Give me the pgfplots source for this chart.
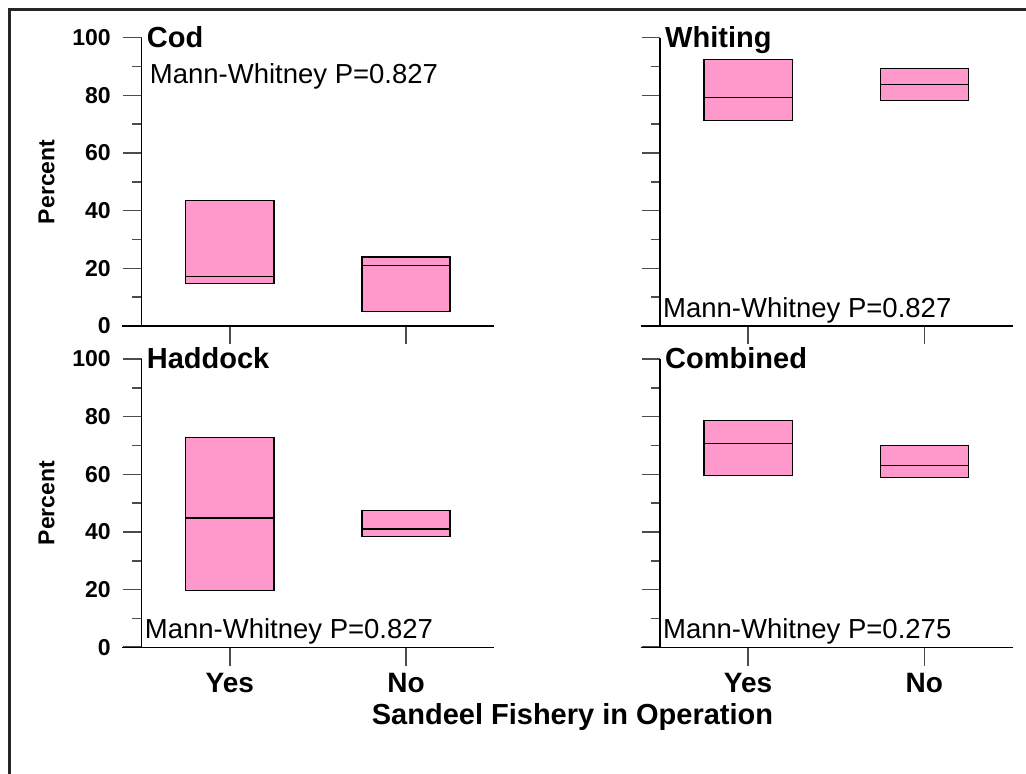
\documentclass[border=0pt]{standalone}
\usepackage{fontspec}
\setmainfont{Liberation Sans}
\usepackage{pgfplots}
\pgfplotsset{compat=1.18}
\usepgfplotslibrary{statistics}

\definecolor{boxpink}{RGB}{255,153,204}

\pgfplotsset{
  panel/.style={
    scale only axis, width=352.5pt, height=288.3pt,
    xmin=0.5, xmax=2.5, ymin=0, ymax=100,
    axis x line*=bottom, axis y line*=left,
    axis line style={black, line width=1.3pt},
    tick align=outside,
    xtick={1,2}, ytick={0,20,40,60,80,100}, minor ytick={10,30,50,70,90},
    major tick length=18.5pt, minor tick length=9.5pt,
    tick style={black!70, line width=1.6pt},
    /pgf/number format/assume math mode=true,
    yticklabel style={font=\fontsize{23}{23}\selectfont\bfseries, xshift=-9pt},
    xticklabel style={font=\fontsize{28}{28}\selectfont\bfseries, yshift=-4pt},
    every axis y label/.style={at={([xshift=-95pt]axis description cs:0,0.5)},
      rotate=90, anchor=center, font=\fontsize{23}{23}\selectfont\bfseries},
    clip=false,
    boxplot/draw direction=y,
    boxplot/box extend=0.5,
    boxplot/whisker extend=0.125,
  },
  pinkbox/.style={draw=black, fill=boxpink, line width=1.3pt},
}

% panel title in the upper left corner
\newcommand\paneltitle[1]{%
  \node[anchor=base west, inner sep=0pt, font=\fontsize{29}{29}\selectfont\bfseries]
    at ([xshift=5pt,yshift=-9.5pt]rel axis cs:0,1) {#1};}
% test result, near the top or near the bottom of a panel
\newcommand\mwtop[1]{%
  \node[anchor=base west, inner sep=0pt, font=\fontsize{27.5}{27.5}\selectfont]
    at ([xshift=8pt,yshift=-46.3pt]rel axis cs:0,1) {Mann-Whitney P=#1};}
\newcommand\mwbottom[1]{%
  \node[anchor=base west, inner sep=0pt, font=\fontsize{27.5}{27.5}\selectfont]
    at ([xshift=3pt,yshift=8.5pt]rel axis cs:0,0) {Mann-Whitney P=#1};}
% x axis line carried on to the outer end of the y ticks
\newcommand\axisstub{%
  \draw[black, line width=1.3pt] ([xshift=-19.5pt]rel axis cs:0,0) -- (rel axis cs:0,0);}

\begin{document}
\begin{tikzpicture}

% Cod
\begin{axis}[panel, at={(141.7pt,448pt)}, anchor=south west, xticklabels={}, ylabel=Percent]
  \addplot[pinkbox, boxplot prepared={draw position=1, lower whisker=14.8, lower quartile=14.8,
    median=17.1, upper quartile=43.6, upper whisker=43.6}] coordinates {};
  \addplot[pinkbox, boxplot prepared={draw position=2, lower whisker=5.1, lower quartile=5.1,
    median=20.9, upper quartile=23.9, upper whisker=23.9}] coordinates {};
  \axisstub
  \paneltitle{Cod}
  \mwtop{0.827}
\end{axis}

% Whiting
\begin{axis}[panel, at={(660pt,448pt)}, anchor=south west, xticklabels={}, yticklabels={}]
  \addplot[pinkbox, boxplot prepared={draw position=1, lower whisker=71.3, lower quartile=71.3,
    median=79.2, upper quartile=92.4, upper whisker=92.4}] coordinates {};
  \addplot[pinkbox, boxplot prepared={draw position=2, lower whisker=78.1, lower quartile=78.1,
    median=83.7, upper quartile=89.4, upper whisker=89.4}] coordinates {};
  \axisstub
  \paneltitle{Whiting}
  \mwbottom{0.827}
\end{axis}

% Haddock
\begin{axis}[panel, at={(141.7pt,126.7pt)}, anchor=south west, xticklabels={Yes,No}, ylabel=Percent]
  \addplot[pinkbox, boxplot prepared={draw position=1, lower whisker=19.8, lower quartile=19.8,
    median=44.9, upper quartile=72.7, upper whisker=72.7}] coordinates {};
  \addplot[pinkbox, boxplot prepared={draw position=2, lower whisker=38.4, lower quartile=38.4,
    median=41.0, upper quartile=47.4, upper whisker=47.4}] coordinates {};
  \axisstub
  \paneltitle{Haddock}
  \mwbottom{0.827}
\end{axis}

% Combined
\begin{axis}[panel, at={(660pt,126.7pt)}, anchor=south west, xticklabels={Yes,No}, yticklabels={}]
  \addplot[pinkbox, boxplot prepared={draw position=1, lower whisker=59.7, lower quartile=59.7,
    median=70.7, upper quartile=78.6, upper whisker=78.6}] coordinates {};
  \addplot[pinkbox, boxplot prepared={draw position=2, lower whisker=58.8, lower quartile=58.8,
    median=63.1, upper quartile=70.1, upper whisker=70.1}] coordinates {};
  \axisstub
  \paneltitle{Combined}
  \mwbottom{0.275}
\end{axis}

\node[anchor=base, inner sep=0pt, font=\fontsize{29}{29}\selectfont\bfseries]
  at (572.5pt,49pt) {Sandeel Fishery in Operation};

% outer frame, running off the page on the right and at the bottom
\draw[line width=3pt, black!85] (9pt,-10pt) -- (9pt,764pt) -- (1040pt,764pt);

\pgfresetboundingbox
\path[use as bounding box] (0pt,0pt) rectangle (1026pt,774pt);
\end{tikzpicture}
\end{document}
